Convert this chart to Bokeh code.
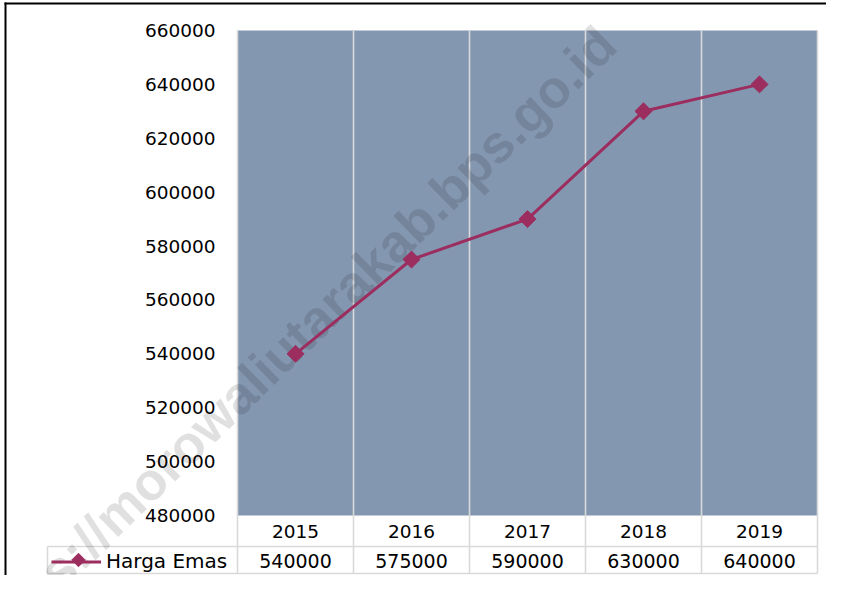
import math
from bokeh.plotting import figure
from bokeh.models import Range1d, BoxAnnotation, Legend, LegendItem, ColumnDataSource
from bokeh.core.properties import value
from bokeh.embed import file_html
from bokeh.resources import INLINE

# ---- data ----
years = ["2015", "2016", "2017", "2018", "2019"]
harga_emas = [540000, 575000, 590000, 630000, 640000]
y_ticks = [480000, 500000, 520000, 540000, 560000, 580000, 600000, 620000, 640000, 660000]
series_name = "Harga Emas"
watermark = "https://morowaliutarakab.bps.go.id"

# ---- layout / style (canvas pixels) ----
W, H = 826, 575
FL, FT, FW, FH = 237, 30, 580, 485      # plot area
Y0, Y1 = y_ticks[0], y_ticks[-1]
BG = "#8497B0"
LINE = "#9B2D5F"
GRID = "#D9D9D9"
FONT = "DejaVu Sans"
NCAT = len(years)
CW = FW / NCAT


def dx(cx):
    return (cx - FL) / CW


def dy(cy):
    return Y0 + (FT + FH - cy) * (Y1 - Y0) / FH


p = figure(width=W, height=H, x_range=Range1d(dx(0), dx(W)), y_range=Range1d(dy(H), dy(0)),
           x_axis_type=None, y_axis_type=None,
           output_backend="svg", toolbar_location=None,
           min_border_left=0, min_border_right=0, min_border_top=0, min_border_bottom=0)
p.background_fill_color = "white"
p.border_fill_color = "white"
p.outline_line_color = None
p.grid.visible = False

xc = [i + 0.5 for i in range(NCAT)]
src = ColumnDataSource(dict(x=xc, year=years, value=harga_emas,
                            label=[str(v) for v in harga_emas]))

# plot area background
p.quad(left=[0], right=[NCAT], bottom=[Y0], top=[Y1], fill_color=BG, line_color=None)

# category / table grid lines
bounds = list(range(NCAT + 1))
p.segment(x0=bounds, x1=bounds, y0=[Y1] * len(bounds), y1=[dy(573)] * len(bounds),
          line_color=GRID, line_width=1.6)
p.segment(x0=[dx(47), dx(47)], x1=[NCAT, NCAT], y0=[dy(546), dy(573)], y1=[dy(546), dy(573)],
          line_color=GRID, line_width=1.6)
p.segment(x0=[dx(47)], x1=[dx(47)], y0=[dy(546)], y1=[dy(573)], line_color=GRID, line_width=1.6)

# outer border
p.add_layout(BoxAnnotation(left=dx(4), right=dx(W), top=dy(2), bottom=dy(4),
                           fill_color="black", fill_alpha=1, line_color=None))
p.add_layout(BoxAnnotation(left=dx(4), right=dx(6), top=dy(2), bottom=dy(H),
                           fill_color="black", fill_alpha=1, line_color=None))

# watermark
p.text(x=[dx(291)], y=[dy(342)], text=[watermark], angle=44.2, angle_units="deg",
       text_align="center", text_baseline="middle",
       text_font=value("Liberation Sans"), text_font_style="bold",
       text_font_size="53px", text_color="black", text_alpha=0.12)

# y tick labels
p.text(x=[dx(215)] * len(y_ticks), y=y_ticks, text=[str(t) for t in y_ticks],
       text_align="right", text_baseline="middle", text_font=value(FONT),
       text_font_size="18.5px", text_color="black")

# data table: years row and values row
p.text(x="x", y=dy(531), text="year", source=src, text_align="center",
       text_baseline="middle", text_font=value(FONT), text_font_size="18.5px",
       text_color="black")
p.text(x="x", y=dy(560), text="label", source=src, text_align="center",
       text_baseline="middle", text_font=value(FONT), text_font_size="19px",
       text_color="black")

# series
lr = p.line(x="x", y="value", source=src, line_color=LINE, line_width=3)
sr = p.scatter(x="x", y="value", source=src, marker="square", angle=math.pi / 4,
               size=12, fill_color=LINE, line_color=LINE)

legend = Legend(items=[LegendItem(label=series_name, renderers=[lr])],
                location=(51, 2), padding=2, margin=0, spacing=0,
                glyph_width=50, glyph_height=23, label_standoff=5,
                label_text_font=FONT, label_text_font_size="20px",
                label_text_color="black", label_text_baseline="middle",
                background_fill_alpha=0, border_line_color=None)
p.add_layout(legend)

# diamond key drawn over the legend line
p.scatter(x=[dx(78)], y=[dy(559.5)], marker="square", angle=math.pi / 4, size=9.5,
          fill_color=LINE, line_color=LINE, level="overlay")

open("out.html", "w").write(file_html(p, INLINE))
